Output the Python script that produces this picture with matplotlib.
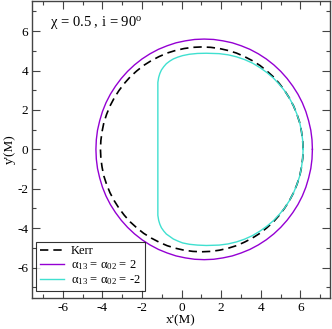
import matplotlib
matplotlib.use("Agg")
import matplotlib.pyplot as plt
from matplotlib.ticker import MultipleLocator

plt.rcParams['font.family'] = ['Liberation Serif', 'DejaVu Serif']
plt.rcParams['mathtext.fontset'] = 'custom'
plt.rcParams['mathtext.rm'] = 'Liberation Serif'
plt.rcParams['mathtext.it'] = 'Liberation Serif:italic'
plt.rcParams['axes.unicode_minus'] = False

# Kerr shadow (dashed)
kerr_x = [6.14, 6.12, 6.06, 5.97, 5.83, 5.66, 5.45, 5.21, 4.94, 4.64, 4.31, 3.96, 3.58, 3.18, 2.77, 2.35, 1.91, 1.47,
          1.02, 0.57, 0.13, -0.31, -0.73, -1.14, -1.54, -1.92, -2.27, -2.60, -2.90, -3.17, -3.41, -3.62, -3.79, -3.93, -4.02, -4.08,
          -4.10, -4.08, -4.02, -3.93, -3.79, -3.62, -3.41, -3.17, -2.90, -2.60, -2.27, -1.92, -1.54, -1.14, -0.73, -0.31, 0.13, 0.57,
          1.02, 1.47, 1.91, 2.35, 2.77, 3.18, 3.58, 3.96, 4.31, 4.64, 4.94, 5.21, 5.45, 5.66, 5.83, 5.97, 6.06, 6.12, 6.14]
kerr_y = [0.00, 0.45, 0.90, 1.35, 1.78, 2.20, 2.60, 2.98, 3.34, 3.68, 3.98, 4.26, 4.50, 4.71, 4.89, 5.02, 5.12, 5.18,
          5.20, 5.18, 5.12, 5.02, 4.89, 4.71, 4.50, 4.26, 3.98, 3.68, 3.34, 2.98, 2.60, 2.20, 1.78, 1.35, 0.90, 0.45,
          0.00, -0.45, -0.90, -1.35, -1.78, -2.20, -2.60, -2.98, -3.34, -3.68, -3.98, -4.26, -4.50, -4.71, -4.89, -5.02, -5.12, -5.18,
          -5.20, -5.18, -5.12, -5.02, -4.89, -4.71, -4.50, -4.26, -3.98, -3.68, -3.34, -2.98, -2.60, -2.20, -1.78, -1.35, -0.90, -0.45, 0.00]

# alpha13 = alpha02 = 2 (purple)
p_x = [6.61, 6.59, 6.53, 6.42, 6.28, 6.10, 5.88, 5.62, 5.33, 5.01, 4.66, 4.28, 3.88, 3.45, 3.01, 2.56, 2.09, 1.62,
       1.14, 0.66, 0.19, -0.28, -0.73, -1.17, -1.60, -2.00, -2.38, -2.73, -3.05, -3.34, -3.60, -3.82, -4.00, -4.14, -4.25, -4.31,
       -4.33, -4.31, -4.25, -4.14, -4.00, -3.82, -3.60, -3.34, -3.05, -2.73, -2.38, -2.00, -1.60, -1.17, -0.73, -0.28, 0.19, 0.66,
       1.14, 1.62, 2.09, 2.56, 3.01, 3.45, 3.88, 4.28, 4.66, 5.01, 5.33, 5.62, 5.88, 6.10, 6.28, 6.42, 6.53, 6.59, 6.61]
p_y = [0.00, 0.49, 0.97, 1.45, 1.92, 2.37, 2.80, 3.21, 3.60, 3.96, 4.29, 4.59, 4.85, 5.08, 5.26, 5.41, 5.51, 5.58,
       5.60, 5.58, 5.51, 5.41, 5.26, 5.08, 4.85, 4.59, 4.29, 3.96, 3.60, 3.21, 2.80, 2.37, 1.92, 1.45, 0.97, 0.49,
       0.00, -0.49, -0.97, -1.45, -1.92, -2.37, -2.80, -3.21, -3.60, -3.96, -4.29, -4.59, -4.85, -5.08, -5.26, -5.41, -5.51, -5.58,
       -5.60, -5.58, -5.51, -5.41, -5.26, -5.08, -4.85, -4.59, -4.29, -3.96, -3.60, -3.21, -2.80, -2.37, -1.92, -1.45, -0.97, -0.49, 0.00]

# alpha13 = alpha02 = -2 (turquoise)
c_x = [6.14, 6.12, 6.06, 5.97, 5.83, 5.66, 5.45, 5.21, 4.94, 4.64, 4.31, 3.96, 3.58, 3.18, 2.77, 2.35, 1.90, 1.25,
       0.80, 0.40, 0.05, -0.20, -0.42, -0.60, -0.77, -0.90, -1.02, -1.10, -1.16, -1.20,
       -1.20, -1.16, -1.10, -1.02, -0.90, -0.77, -0.60, -0.42, -0.20, 0.05, 0.40, 0.80,
       1.25, 1.90, 2.35, 2.77, 3.18, 3.58, 3.96, 4.31, 4.64, 4.94, 5.21, 5.45, 5.66, 5.83, 5.97, 6.06, 6.12, 6.14]
c_y = [0.00, 0.45, 0.90, 1.35, 1.78, 2.20, 2.60, 2.97, 3.30, 3.62, 3.90, 4.15, 4.38, 4.56, 4.70, 4.80, 4.86, 4.88,
       4.87, 4.83, 4.76, 4.68, 4.59, 4.48, 4.35, 4.20, 4.03, 3.85, 3.65, 3.40,
       -3.35, -3.60, -3.80, -3.98, -4.15, -4.30, -4.42, -4.55, -4.65, -4.75, -4.82, -4.86,
       -4.88, -4.86, -4.80, -4.70, -4.56, -4.38, -4.15, -3.90, -3.62, -3.30, -2.97, -2.60, -2.20, -1.78, -1.35, -0.90, -0.45, 0.00]

labels = ['Kerr', 'α$_{13}$ = α$_{02}$ = 2', 'α$_{13}$ = α$_{02}$ = -2']

fig = plt.figure(figsize=(3.32, 3.29), dpi=100)
ax = fig.add_axes([0.097, 0.094, 0.897, 0.904])

ax.plot(kerr_x, kerr_y, color='black', lw=1.2, ls=(0, (5, 3)), label=labels[0])
ax.plot(p_x, p_y, color='#9400D3', lw=1.0, label=labels[1])
ax.plot(c_x, c_y, color='#40E0D0', lw=1.0, label=labels[2])

ax.set_xlim(-7.55, 7.5)
ax.set_ylim(-7.55, 7.55)
ax.xaxis.set_major_locator(MultipleLocator(2))
ax.xaxis.set_minor_locator(MultipleLocator(1))
ax.yaxis.set_major_locator(MultipleLocator(2))
ax.yaxis.set_minor_locator(MultipleLocator(1))
ax.tick_params(which='both', direction='in', top=True, right=True, labelsize=9.5, color='#444444')
ax.tick_params(which='major', length=6, width=0.8, pad=3)
ax.tick_params(which='minor', length=3, width=0.8)
for s in ax.spines.values():
    s.set_color('#444444')
    s.set_linewidth(1.0)

ax.set_xlabel("x'(M)", fontsize=9.5, labelpad=0)
ax.set_ylabel("y'(M)", fontsize=9.5, labelpad=1)

ax.text(0.06, 0.955, "χ = 0.5 , i = 90$^{\\mathrm{o}}$", transform=ax.transAxes,
        fontsize=10.5, va='top', ha='left')

leg = ax.legend(loc='lower left', bbox_to_anchor=(0.013, 0.023), fontsize=9, frameon=True, fancybox=False,
                handlelength=1.9, handletextpad=0.6, borderpad=0.3, labelspacing=0.1,
                borderaxespad=0.0)
leg.get_frame().set_edgecolor('black')
leg.get_frame().set_linewidth(0.8)

fig.savefig('out.png', dpi=100)
